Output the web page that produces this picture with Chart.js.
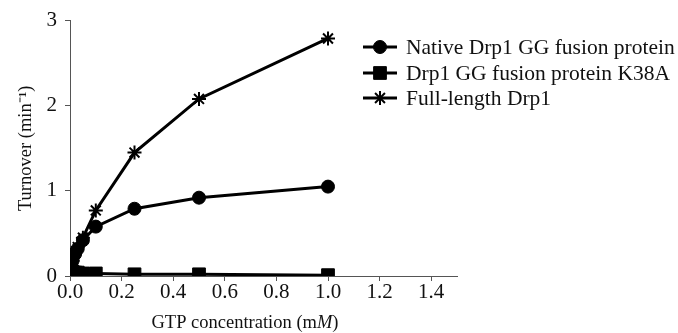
<!DOCTYPE html>
<html>
<head>
<meta charset="utf-8">
<script src="https://cdn.jsdelivr.net/npm/chart.js@4/dist/chart.umd.min.js"></script>
<style>
  html, body { margin: 0; padding: 0; background: #fff; }
  #wrap { width: 678px; height: 333px; }
</style>
</head>
<body>
<div id="wrap"><canvas id="turnoverChart"></canvas></div>
<script>
// GTP concentration (mM)
const gtpConc = [0, 0.005, 0.01, 0.02, 0.03, 0.05, 0.1, 0.25, 0.5, 1.0];
// turnover (min^-1)
const nativeGG = [0.05, 0.12, 0.18, 0.26, 0.32, 0.42, 0.58, 0.79, 0.92, 1.05];
const ggK38A   = [0.06, 0.05, 0.05, 0.04, 0.04, 0.03, 0.03, 0.02, 0.02, 0.01];
const fullDrp1 = [0.05, 0.12, 0.18, 0.27, 0.34, 0.45, 0.77, 1.45, 2.08, 2.79];

const seriesNames = ['Native Drp1 GG fusion protein', 'Drp1 GG fusion protein K38A', 'Full-length Drp1'];
const xTicks = [0, 0.2, 0.4, 0.6, 0.8, 1.0, 1.2, 1.4];
const yTicks = [0, 1, 2, 3];

const FONT = '"Liberation Serif", "Times New Roman", serif';

function pts(ys) {
    return gtpConc.map((x, i) => ({ x: x, y: ys[i] }));
}

const styles = [
    { pointStyle: 'circle', pointRadius: 6.5, pointBorderWidth: 1 },
    { pointStyle: 'rect', pointRadius: 9, pointBorderWidth: 1 },
    { pointStyle: 'star', pointRadius: 7, pointBorderWidth: 2 }
];

// legend drawn in the upper right, like the figure
const sideLegend = {
    id: 'sideLegend',
    afterDraw(chart) {
        const ctx = chart.ctx;
        ctx.save();
        const rows = [47, 73, 98];
        chart.data.datasets.forEach((ds, i) => {
            const y = rows[i];
            ctx.strokeStyle = '#000';
            ctx.lineWidth = 3;
            ctx.beginPath();
            ctx.moveTo(363, y);
            ctx.lineTo(397, y);
            ctx.stroke();
            ctx.fillStyle = '#000';
            ctx.lineWidth = styles[i].pointBorderWidth;
            Chart.helpers.drawPoint(ctx, {
                pointStyle: styles[i].pointStyle,
                radius: styles[i].pointRadius,
                rotation: 0,
                borderWidth: styles[i].pointBorderWidth
            }, 380, y);
            ctx.fillStyle = '#111';
            ctx.font = '21.5px ' + FONT;
            ctx.textBaseline = 'middle';
            ctx.textAlign = 'left';
            ctx.fillText(ds.label, 406, y + 1);
        });

        // x title with italic M
        const parts = [['GTP concentration (m', ''], ['M', 'italic '], [')', '']];
        let total = 0;
        parts.forEach(p => { ctx.font = p[1] + '18.5px ' + FONT; total += ctx.measureText(p[0]).width; });
        let x = 245 - total / 2;
        ctx.textAlign = 'left';
        ctx.textBaseline = 'alphabetic';
        ctx.fillStyle = '#111';
        parts.forEach(p => {
            ctx.font = p[1] + '18.5px ' + FONT;
            ctx.fillText(p[0], x, 328);
            x += ctx.measureText(p[0]).width;
        });
        ctx.restore();
    }
};

new Chart(document.getElementById('turnoverChart'), {
    type: 'line',
    data: {
        datasets: [nativeGG, ggK38A, fullDrp1].map((ys, i) => ({
            label: seriesNames[i],
            data: pts(ys),
            borderColor: '#000',
            backgroundColor: '#000',
            pointBackgroundColor: '#000',
            pointBorderColor: '#000',
            borderWidth: 3,
            tension: 0,
            pointStyle: styles[i].pointStyle,
            pointRadius: styles[i].pointRadius,
            pointBorderWidth: styles[i].pointBorderWidth,
            pointHoverRadius: styles[i].pointRadius
        }))
    },
    options: {
        responsive: true,
        maintainAspectRatio: false,
        animation: false,
        layout: { padding: { top: 19, right: 221, left: 0, bottom: 0 } },
        plugins: {
            legend: { display: false },
            tooltip: { enabled: false }
        },
        scales: {
            x: {
                type: 'linear',
                min: 0,
                max: 1.5,
                afterBuildTicks: s => { s.ticks = xTicks.map(v => ({ value: v })); },
                afterFit: s => { s.height = 57; },
                border: { display: true, color: '#555', width: 1 },
                grid: { drawOnChartArea: false, drawTicks: true, tickLength: 5, color: '#555' },
                ticks: {
                    color: '#111',
                    padding: -1,
                    maxRotation: 0,
                    font: { family: FONT, size: 21 },
                    callback: v => v.toFixed(1)
                }
            },
            y: {
                type: 'linear',
                min: 0,
                max: 3,
                afterBuildTicks: s => { s.ticks = yTicks.map(v => ({ value: v })); },
                afterFit: s => { s.width = 70; },
                border: { display: true, color: '#555', width: 1 },
                grid: { drawOnChartArea: false, drawTicks: true, tickLength: 5, color: '#555' },
                title: {
                    display: true,
                    text: 'Turnover (min\u207B\u00B9)',
                    color: '#111',
                    font: { family: FONT, size: 18.5 },
                    padding: { top: 15, bottom: 4 }
                },
                ticks: {
                    color: '#111',
                    padding: 8,
                    font: { family: FONT, size: 21 }
                }
            }
        }
    },
    plugins: [sideLegend]
});
</script>
</body>
</html>
